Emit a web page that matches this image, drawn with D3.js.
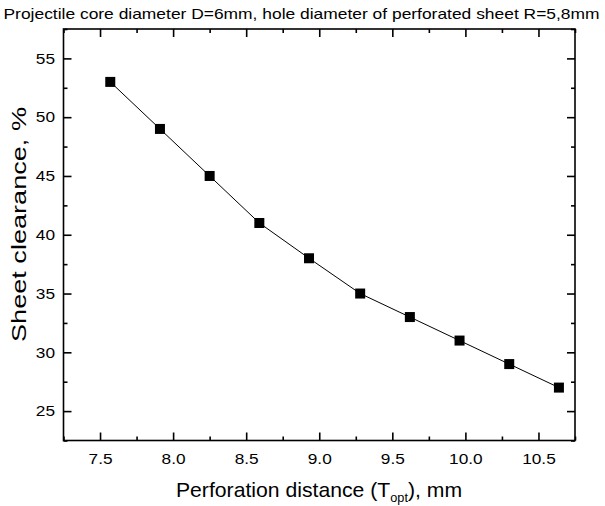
<!DOCTYPE html>
<html>
<head>
<meta charset="utf-8">
<script src="https://cdn.jsdelivr.net/npm/d3@7"></script>
<style>
  body { margin: 0; background: #fff; }
  svg text { font-family: "Liberation Sans", Arial, sans-serif; fill: #000; }
</style>
</head>
<body>
<svg id="chart" width="605" height="506"></svg>
<script>
'use strict';

// ── Data ─────────────────────────────────────────────────────
const distance  = [7.57, 7.91, 8.25, 8.59, 8.93, 9.28, 9.62, 9.96, 10.30, 10.64];
const clearance = [53, 49, 45, 41, 38, 35, 33, 31, 29, 27];
const xTicks    = [7.5, 8.0, 8.5, 9.0, 9.5, 10.0, 10.5];
const yTicks    = [25, 30, 35, 40, 45, 50, 55];

const TITLE = 'Projectile core diameter D=6mm, hole diameter of perforated sheet R=5,8mm';

// ── Layout ───────────────────────────────────────────────────
const M = { left: 63.5, top: 29, right: 575, bottom: 440.5 };
const STRETCH = 1.15;   // reference text is slightly wide

const svg = d3.select('#chart');

const x = d3.scaleLinear().domain([7.25, 10.75]).range([M.left, M.right]);
const y = d3.scaleLinear().domain([22.5, 57.5]).range([M.bottom, M.top]);

const xMinor = d3.range(7.25, 10.76, 0.25).filter(v => !xTicks.some(t => Math.abs(t - v) < 1e-6));
const yMinor = d3.range(22.5, 57.6, 2.5).filter(v => !yTicks.some(t => Math.abs(t - v) < 1e-6));

// ── Axes (ticks inward, mirrored on top/right) ───────────────
function axis(gen, ticks, len, pad, fmt) {
  return gen.tickValues(ticks).tickSize(-len).tickSizeOuter(0).tickPadding(pad).tickFormat(fmt);
}
const none = () => '';

const H = M.bottom - M.top;
const W = M.right - M.left;

// bottom
svg.append('g').attr('transform', `translate(0,${M.bottom})`)
  .call(axis(d3.axisBottom(x), xTicks, 8, 13, d3.format('.1f')));
svg.append('g').attr('transform', `translate(0,${M.bottom})`)
  .call(axis(d3.axisBottom(x), xMinor, 4, 0, none));
// top
svg.append('g').attr('transform', `translate(0,${M.top})`)
  .call(axis(d3.axisTop(x), xTicks, 8, 0, none));
svg.append('g').attr('transform', `translate(0,${M.top})`)
  .call(axis(d3.axisTop(x), xMinor, 4, 0, none));
// left
svg.append('g').attr('transform', `translate(${M.left},0)`)
  .call(axis(d3.axisLeft(y), yTicks, 8, 8.5, d3.format('d')));
svg.append('g').attr('transform', `translate(${M.left},0)`)
  .call(axis(d3.axisLeft(y), yMinor, 4, 0, none));
// right
svg.append('g').attr('transform', `translate(${M.right},0)`)
  .call(axis(d3.axisRight(y), yTicks, 8, 0, none));
svg.append('g').attr('transform', `translate(${M.right},0)`)
  .call(axis(d3.axisRight(y), yMinor, 4, 0, none));

svg.selectAll('.domain').remove();
svg.selectAll('.tick line').attr('stroke', '#000').attr('stroke-width', 1.6);
svg.selectAll('.tick text')
  .attr('font-size', 15)
  .style('font-family', '"Liberation Sans", Arial, sans-serif')
  .each(function () {
    if (!this.textContent) return;
    const len = this.getComputedTextLength();
    d3.select(this).attr('textLength', len * STRETCH).attr('lengthAdjust', 'spacingAndGlyphs');
  });

// frame
svg.append('rect')
  .attr('x', M.left).attr('y', M.top)
  .attr('width', W).attr('height', H)
  .attr('fill', 'none').attr('stroke', '#000').attr('stroke-width', 1.6);

// ── Series ───────────────────────────────────────────────────
const pts = distance.map((d, i) => [d, clearance[i]]);

svg.append('path')
  .datum(pts)
  .attr('fill', 'none')
  .attr('stroke', '#000')
  .attr('stroke-width', 1)
  .attr('d', d3.line().x(d => x(d[0])).y(d => y(d[1])));

const S = 10;
svg.append('g').selectAll('rect').data(pts).join('rect')
  .attr('x', d => x(d[0]) - S / 2)
  .attr('y', d => y(d[1]) - S / 2)
  .attr('width', S).attr('height', S)
  .attr('fill', '#000');

// ── Labels ───────────────────────────────────────────────────
svg.append('text')
  .attr('x', 301.5).attr('y', 19)
  .attr('text-anchor', 'middle')
  .attr('font-size', 14.5)
  .attr('textLength', 596)
  .attr('lengthAdjust', 'spacingAndGlyphs')
  .text(TITLE);

const xl = svg.append('text')
  .attr('transform', `translate(319,497) scale(1.06,1)`)
  .attr('text-anchor', 'middle')
  .attr('font-size', 20);
xl.append('tspan').text('Perforation distance (T');
xl.append('tspan').attr('font-size', 12).attr('dy', 5).text('opt');
xl.append('tspan').attr('dy', -5).text('), mm');

svg.append('text')
  .attr('transform', `translate(26,224.5) rotate(-90)`)
  .attr('text-anchor', 'middle')
  .attr('font-size', 20.5)
  .attr('textLength', 235)
  .attr('lengthAdjust', 'spacingAndGlyphs')
  .text('Sheet clearance, %');
</script>
</body>
</html>
